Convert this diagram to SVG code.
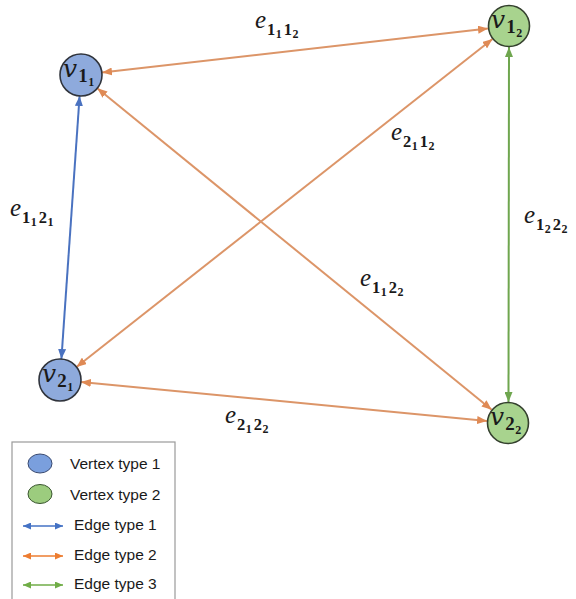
<svg xmlns="http://www.w3.org/2000/svg" width="576" height="599" viewBox="0 0 576 599">
<style>
.edge{stroke-width:2;fill:none}
.e1{stroke:#4a72c0}
.e2{stroke:#dc9568}
.e3{stroke:#6fa64f}
.n1{fill:#8eaadc;stroke:#30343c;stroke-width:1.6}
.n2{fill:#a8d38e;stroke:#34402e;stroke-width:1.6}
.v{font-family:"DejaVu Serif","Liberation Serif",serif;font-style:italic;font-size:25px;fill:#1a1a1a}
.lbl{font-family:"Liberation Serif","DejaVu Serif",serif;font-style:italic;font-size:25px;fill:#1a1a1a}
.s1{font-family:"Liberation Serif",serif;font-style:normal;font-size:16.5px;font-weight:bold}
.s2{font-family:"Liberation Serif",serif;font-style:normal;font-size:12px;font-weight:bold}
.vs1{font-family:"Liberation Serif",serif;font-style:normal;font-size:19px;font-weight:bold}
.vs2{font-family:"Liberation Serif",serif;font-style:normal;font-size:12px;font-weight:bold}
.leg{font-family:"Liberation Sans",Arial,sans-serif;font-size:15.5px;fill:#1a1a1a}
</style>
<defs>
<marker id="ab" markerUnits="userSpaceOnUse" markerWidth="10" markerHeight="8" refX="10" refY="4" orient="auto-start-reverse"><path d="M0,0 L10,4 L0,8 z" fill="#4a72c0"/></marker>
<marker id="ao" markerUnits="userSpaceOnUse" markerWidth="10" markerHeight="8" refX="10" refY="4" orient="auto-start-reverse"><path d="M0,0 L10,4 L0,8 z" fill="#df8a55"/></marker>
<marker id="ag" markerUnits="userSpaceOnUse" markerWidth="10" markerHeight="8" refX="10" refY="4" orient="auto-start-reverse"><path d="M0,0 L10,4 L0,8 z" fill="#6fa64f"/></marker>
<marker id="lb" markerUnits="userSpaceOnUse" markerWidth="8" markerHeight="7" refX="8" refY="3.5" orient="auto-start-reverse"><path d="M0,0 L8,3.5 L0,7 z" fill="#4472c4"/></marker>
<marker id="lo" markerUnits="userSpaceOnUse" markerWidth="8" markerHeight="7" refX="8" refY="3.5" orient="auto-start-reverse"><path d="M0,0 L8,3.5 L0,7 z" fill="#ed7d31"/></marker>
<marker id="lg" markerUnits="userSpaceOnUse" markerWidth="8" markerHeight="7" refX="8" refY="3.5" orient="auto-start-reverse"><path d="M0,0 L8,3.5 L0,7 z" fill="#70ad47"/></marker>
</defs>
<rect width="576" height="599" fill="#ffffff"/>
<g id="connectors">
<line class="edge e2" x1="102" y1="72.6" x2="488" y2="28.6" marker-start="url(#ao)" marker-end="url(#ao)"/>
<line class="edge e2" x1="97.3" y1="88.3" x2="491.7" y2="409.7" marker-start="url(#ao)" marker-end="url(#ao)"/>
<line class="edge e2" x1="492.5" y1="39" x2="76.5" y2="367" marker-start="url(#ao)" marker-end="url(#ao)"/>
<line class="edge e2" x1="80.9" y1="382" x2="487.1" y2="421" marker-start="url(#ao)" marker-end="url(#ao)"/>
<line class="edge e1" x1="79.6" y1="96" x2="61.4" y2="359" marker-start="url(#ab)" marker-end="url(#ab)"/>
<line class="edge e3" x1="509" y1="47" x2="508.5" y2="402" marker-start="url(#ag)" marker-end="url(#ag)"/>
<text class="lbl" x="255" y="28">e<tspan class="s1" dx="1" dy="7">1</tspan><tspan class="s2" dx="0.5" dy="2.5">1</tspan><tspan class="s1" dx="2" dy="-2.5">1</tspan><tspan class="s2" dx="0.5" dy="2.5">2</tspan></text>
<text class="lbl" x="10" y="216">e<tspan class="s1" dx="1" dy="7">1</tspan><tspan class="s2" dx="0.5" dy="2.5">1</tspan><tspan class="s1" dx="2" dy="-2.5">2</tspan><tspan class="s2" dx="0.5" dy="2.5">1</tspan></text>
<text class="lbl" x="391" y="140">e<tspan class="s1" dx="1" dy="7">2</tspan><tspan class="s2" dx="0.5" dy="2.5">1</tspan><tspan class="s1" dx="2" dy="-2.5">1</tspan><tspan class="s2" dx="0.5" dy="2.5">2</tspan></text>
<text class="lbl" x="524" y="223">e<tspan class="s1" dx="1" dy="7">1</tspan><tspan class="s2" dx="0.5" dy="2.5">2</tspan><tspan class="s1" dx="2" dy="-2.5">2</tspan><tspan class="s2" dx="0.5" dy="2.5">2</tspan></text>
<text class="lbl" x="360" y="286">e<tspan class="s1" dx="1" dy="7">1</tspan><tspan class="s2" dx="0.5" dy="2.5">1</tspan><tspan class="s1" dx="2" dy="-2.5">2</tspan><tspan class="s2" dx="0.5" dy="2.5">2</tspan></text>
<text class="lbl" x="225" y="423">e<tspan class="s1" dx="1" dy="7">2</tspan><tspan class="s2" dx="0.5" dy="2.5">1</tspan><tspan class="s1" dx="2" dy="-2.5">2</tspan><tspan class="s2" dx="0.5" dy="2.5">2</tspan></text>
</g>
<g id="v11">
<circle class="n1" cx="81" cy="75" r="21"/>
<text class="v" x="63" y="77">v<tspan class="vs1" dx="1" dy="5">1</tspan><tspan class="vs2" dx="0.5" dy="4">1</tspan></text>
</g>
<g id="v12">
<circle class="n2" cx="509" cy="26" r="20.5"/>
<text class="v" x="491" y="28">v<tspan class="vs1" dx="1" dy="5">1</tspan><tspan class="vs2" dx="0.5" dy="4">2</tspan></text>
</g>
<g id="v21">
<circle class="n1" cx="60" cy="380" r="21"/>
<text class="v" x="42" y="382">v<tspan class="vs1" dx="1" dy="5">2</tspan><tspan class="vs2" dx="0.5" dy="4">1</tspan></text>
</g>
<g id="v22">
<circle class="n2" cx="508" cy="423" r="20.5"/>
<text class="v" x="490" y="425">v<tspan class="vs1" dx="1" dy="5">2</tspan><tspan class="vs2" dx="0.5" dy="4">2</tspan></text>
</g>
<g id="legend">
<rect x="12" y="442" width="163" height="170" fill="#ffffff" stroke="#9a9a9a" stroke-width="1.2"/>
<ellipse cx="40" cy="463.5" rx="12" ry="9.5" fill="#7a9fdd" stroke="#3a4a70" stroke-width="1"/>
<text class="leg" x="70" y="469">Vertex type 1</text>
<ellipse cx="40" cy="494" rx="12" ry="9.5" fill="#9ccc7e" stroke="#3a5530" stroke-width="1"/>
<text class="leg" x="70" y="500">Vertex type 2</text>
<line x1="23" y1="526" x2="63" y2="526" stroke="#4472c4" stroke-width="1.5" marker-start="url(#lb)" marker-end="url(#lb)"/>
<text class="leg" x="74" y="530">Edge type 1</text>
<line x1="23" y1="556" x2="63" y2="556" stroke="#ed7d31" stroke-width="1.5" marker-start="url(#lo)" marker-end="url(#lo)"/>
<text class="leg" x="74" y="560">Edge type 2</text>
<line x1="23" y1="585" x2="63" y2="585" stroke="#70ad47" stroke-width="1.5" marker-start="url(#lg)" marker-end="url(#lg)"/>
<text class="leg" x="74" y="589">Edge type 3</text>
</g>
</svg>
